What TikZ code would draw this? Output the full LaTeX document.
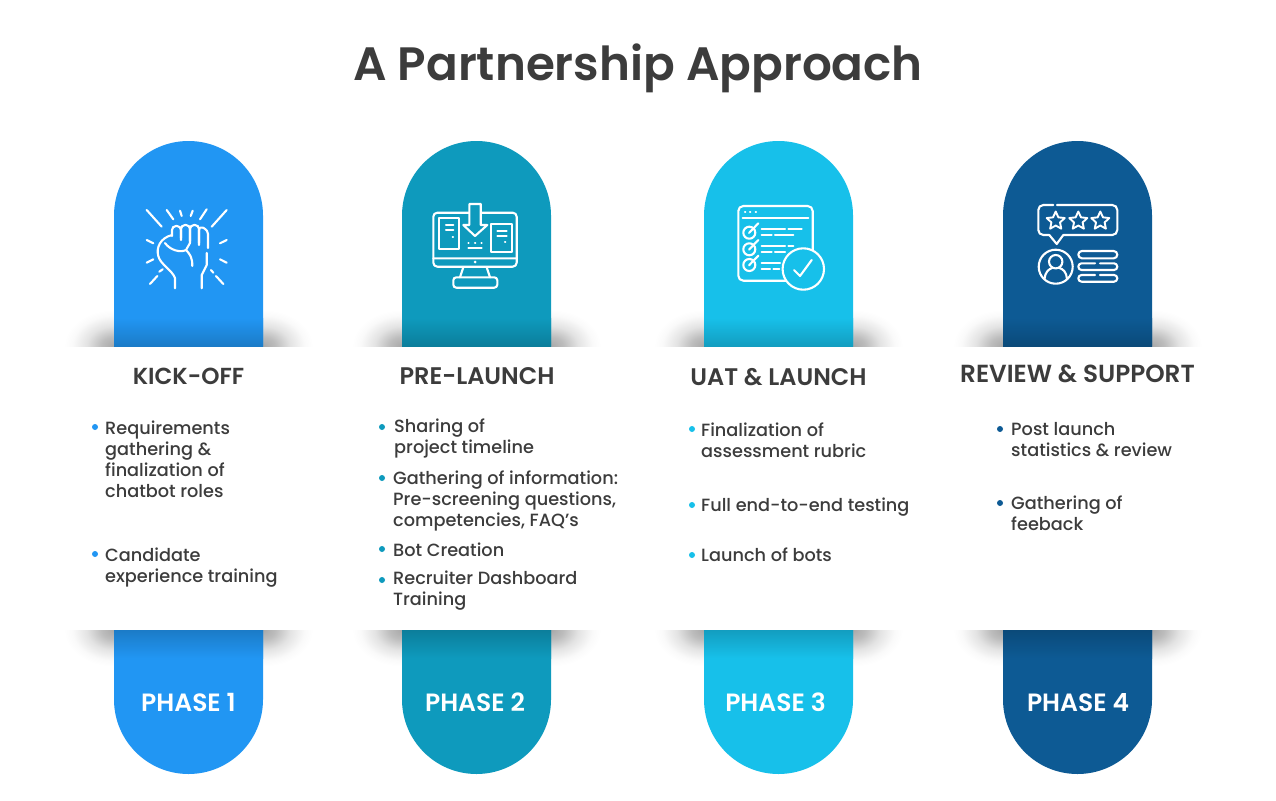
\documentclass[tikz,border=0pt]{standalone}
\usepackage{fontspec}
\setmainfont{Poppins}[UprightFont=* Medium,BoldFont=* SemiBold]
\usetikzlibrary{shapes.geometric}

\definecolor{blueone}{RGB}{33,150,243}
\definecolor{bluetwo}{RGB}{14,154,189}
\definecolor{bluethree}{RGB}{23,192,234}
\definecolor{bluefour}{RGB}{13,90,148}
\definecolor{inktext}{RGB}{60,60,60}

\pgfdeclareradialshading{softglow}{\pgfpoint{0bp}{0bp}}{
  color(0bp)=(black!34); color(6bp)=(black!26); color(13bp)=(black!11);
  color(20bp)=(black!2); color(24bp)=(white); color(50bp)=(white)}

% soft shadow beside a pill end: x, y at the band edge, y of the far clip
\newcommand{\bandshadow}[3]{
  \begin{scope}
    \clip (#1-52,#2) rectangle (#1+52,#3);
    \shade[shading=softglow] (#1,#2) ellipse (52 and 38);
  \end{scope}
}
% upper pill and lower pill
\newcommand{\pillpair}[2]{
  \fill[#2] (#1,346) -- (#1,215.5) arc[start angle=180,end angle=0,radius=74.5pt] -- (#1+149,346) -- cycle;
  \shade[top color=#2,bottom color=#2!82!black] (#1,318) rectangle (#1+149,346);
  \fill[#2] (#1,630) -- (#1+149,630) -- (#1+149,699.5) arc[start angle=0,end angle=-180,radius=74.5pt] -- cycle;
  \shade[top color=#2!82!black,bottom color=#2] (#1,630) rectangle (#1+149,658);
}

\begin{document}
\begin{tikzpicture}[x=1pt,y=-1pt,
    icon/.style={draw=white,line width=2.1pt,line cap=round,line join=round},
    heading/.style={font=\bfseries\fontsize{24}{28}\selectfont,text=inktext,inner sep=0pt},
    phase/.style={font=\bfseries\fontsize{25}{29}\selectfont,text=white,inner sep=0pt},
    item/.style={font=\fontsize{17.7}{21}\selectfont,text=inktext,inner sep=0pt,anchor=west,align=left},
    dot/.style={circle,inner sep=0pt,minimum size=6pt,fill=#1},
    ratestar/.style={star,star points=5,star point ratio=2.1,draw=white,line width=1.9pt,
      line join=round,inner sep=0pt,minimum size=19pt}]
  \useasboundingbox (0,0) rectangle (1276,800);
  \fill[white] (0,0) rectangle (1276,800);

  \node[font=\bfseries\fontsize{46.8}{54}\selectfont,text=inktext,inner sep=0pt] (title) at (638,68) {A Partnership Approach};

  % shadows
  \bandshadow{114}{346}{306}
  \bandshadow{263}{346}{306}
  \bandshadow{402}{346}{306}
  \bandshadow{551}{346}{306}
  \bandshadow{704}{346}{306}
  \bandshadow{853}{346}{306}
  \bandshadow{1003}{346}{306}
  \bandshadow{1152}{346}{306}
  \bandshadow{114}{630}{670}
  \bandshadow{263}{630}{670}
  \bandshadow{402}{630}{670}
  \bandshadow{551}{630}{670}
  \bandshadow{704}{630}{670}
  \bandshadow{853}{630}{670}
  \bandshadow{1003}{630}{670}
  \bandshadow{1152}{630}{670}

  % pills
  \pillpair{114}{blueone}
  \pillpair{402}{bluetwo}
  \pillpair{704}{bluethree}
  \pillpair{1003}{bluefour}

  % fist
  \draw[icon] (146.7,210) -- (161.7,226.7) (166.7,210) -- (173.3,219.3) (180,210.7) -- (181.7,216)
    (192.7,210.7) -- (190.7,216) (206.7,209.3) -- (200,219.3) (226.7,210) -- (211.7,226.7)
    (146.7,240) -- (153.3,243.3) (146.7,262.7) -- (153.3,259.3) (226.7,240) -- (220,243.3)
    (226.7,262.7) -- (220,259.3) (150,284) -- (157.3,276) (159.3,271.7) -- (162.7,269.3)
    (223.3,284) -- (216,276) (211,270) -- (213.3,272.7);
  \draw[icon,rounded corners=4pt] (172,236) -- (172,226) -- (181,226) -- (181,240);
  \draw[icon,rounded corners=4pt] (181,238) -- (181,225) -- (190,225) -- (190,243);
  \draw[icon,rounded corners=4pt] (190,241) -- (190,225) -- (199,225) -- (199,245);
  \draw[icon,rounded corners=4pt] (199,243) -- (199,226) -- (208,230) -- (208,248);
  \draw[icon] (172,235) .. controls (160,238) and (156,248) .. (158.3,256) .. controls (160,264) and (172,270) .. (175,278) -- (175,288.3);
  \draw[icon] (165,243) .. controls (170,250) and (180,253) .. (186,250) .. controls (190,254) and (192.5,258) .. (192.3,266);
  \draw[icon] (186,250) -- (190,243);
  \draw[icon] (206.7,253) -- (206.7,265) -- (201.7,275) -- (201.7,288.3);

  % monitor
  \draw[icon,rounded corners=4pt] (433.3,212.7) rectangle (516.7,266.7);
  \draw[icon] (433.3,258.3) -- (516.7,258.3) (463.3,267.3) -- (460,277.3) (486.7,267.3) -- (490,277.3);
  \draw[icon,rounded corners=3pt] (453.3,277.3) rectangle (497.3,287.7);
  \fill[white] (475,262) circle (1.5);
  \draw[icon] (439.3,218.3) rectangle (459.3,249.3) (446,225) -- (453.3,225) (446,230) -- (453.3,230) (452.7,236.7) -- (453,236.7);
  \draw[icon] (491,224) rectangle (511.7,251.7) (497.3,230.7) -- (506.7,230.7) (497.3,235.7) -- (506.7,235.7) (505,241.7) -- (505.3,241.7);
  \draw[icon,fill=bluetwo] (469.3,204) -- (480.7,204) -- (480.7,225) -- (487.3,225) -- (475,236) -- (463.3,225) -- (469.3,225) -- cycle;
  \draw[icon] (468.3,242.7) -- (468.6,242.7) (475,242.7) -- (475.3,242.7) (481.4,242.7) -- (481.7,242.7) (468.3,248.3) -- (481.7,248.3);

  % checklist
  \draw[icon,rounded corners=5pt] (738.3,206) rectangle (812.7,280.7);
  \draw[icon] (742.7,218.3) -- (808.3,218.3) (745,212.3) -- (745.3,212.3) (750,212.3) -- (750.3,212.3) (755.7,212.3) -- (756,212.3);
  \draw[icon] (749.3,232.7) circle (6) (749.3,249.3) circle (6) (749.3,265) circle (6);
  \draw[icon] (749,233) -- (758.3,223.3) (749,249.6) -- (758.3,240) (749,265.3) -- (758.3,255.7);
  \draw[icon] (761.7,229.3) -- (785,229.3) (788.3,229.3) -- (801.7,229.3) (761.7,235) -- (771.7,235) (775,235) -- (793.3,235)
    (761.7,246) -- (785,246) (788.3,246) -- (793.3,246) (761.7,251.7) -- (771.7,251.7) (775,251.7) -- (785,251.7)
    (761.7,262.7) -- (780,262.7) (761.7,269) -- (770,269) (773.3,269) -- (779.3,269);
  \draw[icon,fill=bluethree] (803.3,269) circle (20.7);
  \draw[icon] (794,270) -- (800,276) -- (811.7,260);

  % rating
  \draw[icon,rounded corners=5pt] (1053.3,205) -- (1038.3,205) -- (1038.3,235) -- (1049.3,235);
  \draw[icon] (1049.3,235) -- (1056.7,244) -- (1063.3,235);
  \draw[icon,rounded corners=5pt] (1063.3,235) -- (1117.3,235) -- (1117.3,205) -- (1057,205);
  \node[ratestar] (starA) at (1055.7,221) {};
  \node[ratestar] (starB) at (1078.3,221) {};
  \node[ratestar] (starC) at (1100.3,221) {};
  \draw[icon] (1055.7,266.7) circle (17) (1055.7,261.7) circle (6.7);
  \draw[icon] (1044.5,279) .. controls (1045,272) and (1049,269) .. (1052,268) (1059.4,268) .. controls (1063,269) and (1066.5,272) .. (1067,279);
  \draw[icon,rounded corners=3.6pt] (1078.3,251) rectangle (1117.3,258.3);
  \draw[icon,rounded corners=3.3pt] (1100,263.3) -- (1117.3,263.3) -- (1117.3,270) -- (1078.3,270) -- (1078.3,263.3) -- (1095,263.3);
  \draw[icon,rounded corners=3.3pt] (1095,275) -- (1078.3,275) -- (1078.3,281.7) -- (1117.3,281.7) -- (1117.3,275) -- (1100,275);

  % headings
  \node[heading,font=\bfseries\fontsize{23.2}{28}\selectfont] (headA) at (188.5,376) {KICK-OFF};
  \node[heading] (headB) at (477,376) {PRE-LAUNCH};
  \node[heading] (headC) at (778.5,377) {UAT \& LAUNCH};
  \node[heading,font=\bfseries\fontsize{24.7}{28}\selectfont] (headD) at (1077.5,373.5) {REVIEW \& SUPPORT};

  % first column
  \node[dot=blueone] (dotA1) at (95,427) {};
  \node[item] (itemA1) at (105,459) {Requirements\\gathering \&\\finalization of\\chatbot roles};
  \node[dot=blueone] (dotA2) at (95,554) {};
  \node[item] (itemA2) at (105,567.5) {Candidate\\experience training};

  % second column
  \node[dot=bluetwo] (dotB1) at (382,427) {};
  \node[item] (itemB1) at (394,438.5) {Sharing of\\project timeline};
  \node[dot=bluetwo] (dotB2) at (382,478) {};
  \node[item] (itemB2) at (393,500.5) {Gathering of information:\\Pre-screening questions,\\competencies, FAQ’s};
  \node[dot=bluetwo] (dotB3) at (382,549) {};
  \node[item] (itemB3) at (393,550) {Bot Creation};
  \node[dot=bluetwo] (dotB4) at (382,580) {};
  \node[item] (itemB4) at (393,590.5) {Recruiter Dashboard\\Training};

  % third column
  \node[dot=bluethree] (dotC1) at (692,429) {};
  \node[item] (itemC1) at (701,440.5) {Finalization of\\assessment rubric};
  \node[dot=bluethree] (dotC2) at (692,505) {};
  \node[item] (itemC2) at (701,507) {Full end-to-end testing};
  \node[dot=bluethree] (dotC3) at (692,555) {};
  \node[item] (itemC3) at (701,555) {Launch of bots};

  % fourth column
  \node[dot=bluefour] (dotD1) at (1000,429) {};
  \node[item] (itemD1) at (1011,439.5) {Post launch\\statistics \& review};
  \node[dot=bluefour] (dotD2) at (1000,503) {};
  \node[item] (itemD2) at (1011,513.5) {Gathering of\\feeback};

  % phases
  \node[phase] (phaseA) at (188.5,702) {PHASE 1};
  \node[phase] (phaseB) at (475,702) {PHASE 2};
  \node[phase] (phaseC) at (775.5,702) {PHASE 3};
  \node[phase] (phaseD) at (1078,702.5) {PHASE 4};
\end{tikzpicture}
\end{document}
